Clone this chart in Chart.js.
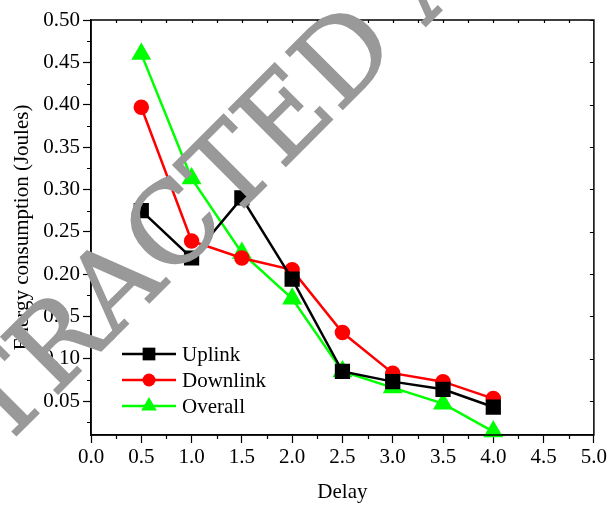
<!DOCTYPE html>
<html>
<head>
<meta charset="utf-8">
<script src="https://cdn.jsdelivr.net/npm/chart.js@4.4.1/dist/chart.umd.min.js"></script>
<style>
  html, body { margin: 0; padding: 0; background: #fff; }
  #wrap { width: 609px; height: 505px; }
</style>
</head>
<body>
<div id="wrap"><canvas id="chart"></canvas></div>
<script>
// data
const delay = [0.5, 1.0, 1.5, 2.0, 2.5, 3.0, 3.5, 4.0];
const uplink = [0.275, 0.219, 0.290, 0.194, 0.085, 0.073, 0.064, 0.043];
const downlink = [0.397, 0.239, 0.219, 0.205, 0.131, 0.083, 0.073, 0.053];
const overall = [0.460, 0.313, 0.225, 0.171, 0.085, 0.066, 0.047, 0.014];
const seriesNames = ['Uplink', 'Downlink', 'Overall'];
const xTicks = [0, 0.5, 1.0, 1.5, 2.0, 2.5, 3.0, 3.5, 4.0, 4.5, 5.0];
const yTicks = [0.05, 0.10, 0.15, 0.20, 0.25, 0.30, 0.35, 0.40, 0.45, 0.50];

const SERIF = "'Liberation Serif', 'Times New Roman', serif";
Chart.defaults.font.family = SERIF;
Chart.defaults.font.size = 21;
Chart.defaults.color = '#000';

function points(ys) {
    return delay.map((x, i) => ({ x: x, y: ys[i] }));
}

// frame, minor ticks, inner ticks on top/right
const framePlugin = {
    id: 'frame',
    afterDatasetsDraw(chart) {
        const { ctx, chartArea: a, scales: { x, y } } = chart;
        ctx.save();
        ctx.strokeStyle = '#000';
        ctx.lineWidth = 1.5;
        ctx.strokeRect(a.left, a.top, a.right - a.left, a.bottom - a.top);
        ctx.lineWidth = 1.2;
        ctx.beginPath();
        // bottom minor (outside) and top (inside)
        for (let v = 0.25; v < 5; v += 0.5) {
            const px = Math.round(x.getPixelForValue(v)) + 0.5;
            ctx.moveTo(px, a.bottom); ctx.lineTo(px, a.bottom + 4);
        }
        for (let v = 0.25; v < 5; v += 0.25) {
            const px = Math.round(x.getPixelForValue(v)) + 0.5;
            ctx.moveTo(px, a.top); ctx.lineTo(px, a.top + 3);
        }
        // left minor (outside) and right (inside)
        for (let v = 0.025; v < 0.5; v += 0.05) {
            const py = Math.round(y.getPixelForValue(v)) + 0.5;
            if (py > a.bottom) continue;
            ctx.moveTo(a.left, py); ctx.lineTo(a.left - 4, py);
        }
        yTicks.forEach(v => {
            const py = Math.round(y.getPixelForValue(v)) + 0.5;
            ctx.moveTo(a.right, py); ctx.lineTo(a.right - 4, py);
        });
        ctx.stroke();
        ctx.restore();
    }
};

// legend inside the plot
const legendPlugin = {
    id: 'innerLegend',
    afterDatasetsDraw(chart) {
        const { ctx, chartArea: a } = chart;
        ctx.save();
        chart.data.datasets.forEach((ds, i) => {
            const yy = 354 + i * 26;
            const x0 = a.left + 31;
            ctx.strokeStyle = ds.borderColor;
            ctx.lineWidth = 2.5;
            ctx.beginPath();
            ctx.moveTo(x0, yy); ctx.lineTo(x0 + 54, yy);
            ctx.stroke();
            ctx.fillStyle = ds.backgroundColor;
            Chart.helpers.drawPoint(ctx, {
                pointStyle: ds.pointStyle, radius: ds.pointRadius, rotation: 0, borderWidth: 0
            }, x0 + 27, yy);
            ctx.fillStyle = '#000';
            ctx.font = '21px ' + SERIF;
            ctx.textBaseline = 'middle';
            ctx.fillText(ds.label, x0 + 60, yy + 1);
        });
        ctx.restore();
    }
};

// watermark on top of everything; the "A" and the "D" of the first word are
// pinned to where they sit in the picture
const stampPlugin = {
    id: 'stamp',
    afterDraw(chart) {
        const ctx = chart.ctx;
        const text = 'RETRACTED ARTICLE';
        const aBase = [141, 311], dBase = [370, 82];
        const ang = Math.atan2(dBase[1] - aBase[1], dBase[0] - aBase[0]);
        const span = Math.hypot(dBase[0] - aBase[0], dBase[1] - aBase[1]);
        const font = s => s + "px 'DejaVu Serif', serif";
        ctx.save();
        ctx.font = font(100);
        const centre = (pre, ch) => ctx.measureText(pre).width + ctx.measureText(ch).width / 2;
        const size = 100 * span / (centre('RETRACTE', 'D') - centre('RETR', 'A'));
        ctx.font = font(size);
        const along = centre('RETR', 'A');
        const ux = Math.cos(ang), uy = Math.sin(ang);
        ctx.translate(aBase[0] - along * ux, aBase[1] - along * uy);
        ctx.rotate(ang);
        ctx.fillStyle = '#999999';
        ctx.strokeStyle = '#999999';
        ctx.lineWidth = 1.5;
        ctx.textBaseline = 'alphabetic';
        ctx.fillText(text, 0, 0);
        ctx.strokeText(text, 0, 0);
        ctx.restore();
    }
};

new Chart(document.getElementById('chart'), {
    type: 'line',
    data: {
        datasets: [{
            label: seriesNames[0],
            data: points(uplink),
            borderColor: '#000000',
            backgroundColor: '#000000',
            pointStyle: 'rect',
            pointRadius: 9,
            borderWidth: 2.5
        }, {
            label: seriesNames[1],
            data: points(downlink),
            borderColor: '#ff0000',
            backgroundColor: '#ff0000',
            pointStyle: 'circle',
            pointRadius: 6.5,
            borderWidth: 2.5
        }, {
            label: seriesNames[2],
            data: points(overall),
            borderColor: '#00ff00',
            backgroundColor: '#00ff00',
            pointStyle: 'triangle',
            pointRadius: 9,
            borderWidth: 2.5
        }]
    },
    options: {
        responsive: true,
        maintainAspectRatio: false,
        animation: false,
        clip: false,
        elements: { point: { borderWidth: 0, hoverRadius: 9 } },
        layout: { padding: { top: 20, right: 0, bottom: 0, left: 4 } },
        plugins: {
            legend: { display: false },
            tooltip: { enabled: false }
        },
        scales: {
            x: {
                type: 'linear',
                min: 0,
                max: 5,
                afterBuildTicks: s => { s.ticks = xTicks.map(v => ({ value: v })); },
                afterFit: s => { s.height = 70; },
                ticks: { callback: v => v.toFixed(1), padding: 2, maxRotation: 0, autoSkip: false },
                grid: { drawOnChartArea: false, tickLength: 8, tickWidth: 1.2, tickColor: '#000' },
                border: { color: '#000', width: 1.5 },
                title: { display: true, text: 'Delay', padding: { top: 0, bottom: 0 } }
            },
            y: {
                min: 0.01,
                max: 0.5,
                afterBuildTicks: s => { s.ticks = yTicks.map(v => ({ value: v })); },
                afterFit: s => { s.width = 87; },
                ticks: { callback: v => v.toFixed(2), padding: 3, autoSkip: false },
                grid: { drawOnChartArea: false, tickLength: 8, tickWidth: 1.2, tickColor: '#000' },
                border: { color: '#000', width: 1.5 },
                title: { display: true, text: 'Energy consumption (Joules)', padding: { top: 6, bottom: 0 } }
            }
        }
    },
    plugins: [framePlugin, legendPlugin, stampPlugin]
});
</script>
</body>
</html>
